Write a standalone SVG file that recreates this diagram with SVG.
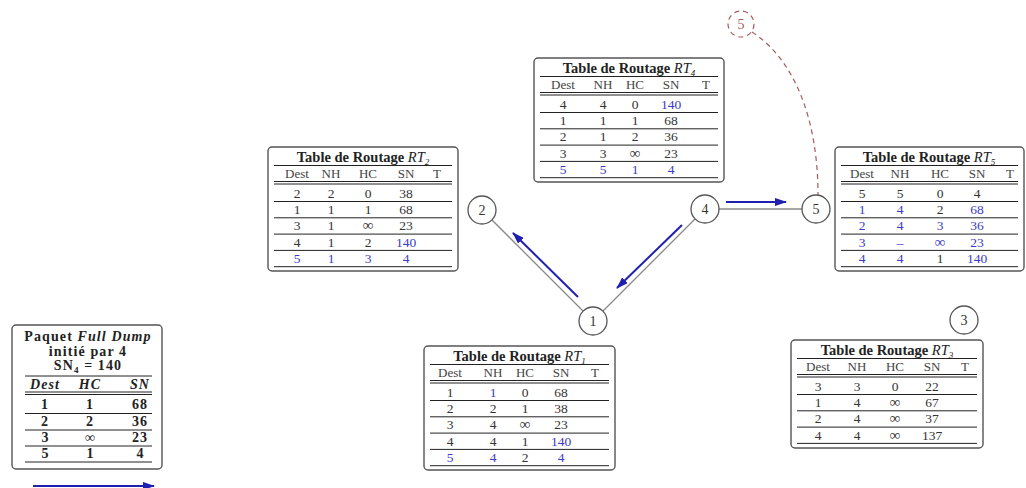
<svg xmlns="http://www.w3.org/2000/svg" width="1026" height="488" viewBox="0 0 1026 488">
  <style>
    .box { fill: #fff; stroke: #555; stroke-width: 1.4; }
    .rule { stroke: #222; stroke-width: 1; }
    .tt { font-family: "Liberation Serif", "DejaVu Serif", serif; font-weight: bold; font-size: 14.5px; fill: #222; text-anchor: middle; }
    .rt { font-weight: normal; font-style: italic; }
    .hd { font-family: "Liberation Serif", "DejaVu Serif", serif; font-size: 13px; fill: #444; text-anchor: middle; }
    .c { font-family: "Liberation Serif", "DejaVu Serif", serif; font-size: 13.5px; fill: #333; text-anchor: middle; }
    .inf { font-size: 15px; }
    .b { fill: #3b3bc4; }
    .pk { font-family: "Liberation Serif", "DejaVu Serif", serif; font-weight: bold; font-size: 14px; fill: #222; text-anchor: middle; }
    .wide { letter-spacing: 1.1px; }
    .it { font-style: italic; }
    .link { stroke: #888; stroke-width: 1.3; fill: none; }
    .flow { stroke: #1f1fb0; stroke-width: 2; fill: none; marker-end: url(#head); }
    .node { fill: #fff; stroke: #555; stroke-width: 1.3; }
    .nl { font-family: "Liberation Serif", "DejaVu Serif", serif; font-size: 14px; fill: #333; text-anchor: middle; }
    .ghost { fill: none; stroke: #a85a5a; stroke-width: 1.2; stroke-dasharray: 5 4; }
  </style>
  <defs>
    <marker id="head" viewBox="0 0 12 8" refX="11" refY="4" markerWidth="12" markerHeight="8" markerUnits="userSpaceOnUse" orient="auto">
      <path d="M0,0 L12,4 L0,8 z" fill="#1f1fb0"/>
    </marker>
  </defs>

  <!-- links between nodes and the flooding arrows -->
  <g id="connectors">
    <line class="link" x1="482" y1="210" x2="593" y2="321"/>
    <line class="link" x1="593" y1="321" x2="705" y2="209"/>
    <line class="link" x1="705" y1="209" x2="816" y2="209"/>
    <line class="flow" x1="578" y1="297" x2="513" y2="233"/>
    <line class="flow" x1="682" y1="225" x2="617" y2="288"/>
    <line class="flow" x1="726" y1="202" x2="786" y2="202"/>
    <path class="ghost" d="M752,32 C795,60 818,120 818,195"/>
    <line class="flow" x1="33" y1="486" x2="154" y2="486"/>
  </g>

  <!-- nodes -->
  <g id="node-2"><circle class="node" cx="482" cy="210" r="14"/><text class="nl" x="482" y="215">2</text></g>
  <g id="node-1"><circle class="node" cx="593" cy="321" r="14"/><text class="nl" x="593" y="326">1</text></g>
  <g id="node-4"><circle class="node" cx="705" cy="209" r="14"/><text class="nl" x="705" y="214">4</text></g>
  <g id="node-5"><circle class="node" cx="816" cy="209" r="14"/><text class="nl" x="816" y="214">5</text></g>
  <g id="node-3"><circle class="node" cx="964" cy="320" r="14"/><text class="nl" x="964" y="325">3</text></g>
  <g id="node-5-moved"><circle class="ghost" cx="741" cy="24" r="13"/><text class="nl" x="741" y="29" style="fill:#a85a5a">5</text></g>

  <!-- routing table of node 4 -->
  <g id="table-rt4">
    <rect class="box" x="534" y="58" width="190" height="124" rx="4"/>
    <text class="tt" x="629" y="72.5">Table de Routage <tspan class="rt">RT</tspan><tspan class="rt" font-size="9" dy="3">4</tspan></text>
    <line class="rule" x1="540" y1="76.5" x2="718" y2="76.5"/>
    <g class="hd"><text x="563" y="89">Dest</text><text x="603" y="89">NH</text><text x="635" y="89">HC</text><text x="671" y="89">SN</text><text x="706" y="89">T</text></g>
    <line class="rule" x1="540" y1="92.5" x2="718" y2="92.5"/>
    <line class="rule" x1="540" y1="95" x2="718" y2="95"/>
    <text class="c" x="563" y="108.8">4</text><text class="c" x="603" y="108.8">4</text><text class="c" x="635" y="108.8">0</text><text class="c b" x="671" y="108.8">140</text>
    <line class="rule" x1="540" y1="112.5" x2="718" y2="112.5"/>
    <text class="c" x="563" y="125.1">1</text><text class="c" x="603" y="125.1">1</text><text class="c" x="635" y="125.1">1</text><text class="c" x="671" y="125.1">68</text>
    <line class="rule" x1="540" y1="128.8" x2="718" y2="128.8"/>
    <text class="c" x="563" y="141.4">2</text><text class="c" x="603" y="141.4">1</text><text class="c" x="635" y="141.4">2</text><text class="c" x="671" y="141.4">36</text>
    <line class="rule" x1="540" y1="145.1" x2="718" y2="145.1"/>
    <text class="c" x="563" y="157.7">3</text><text class="c" x="603" y="157.7">3</text><text class="c inf" x="635" y="157.7">∞</text><text class="c" x="671" y="157.7">23</text>
    <line class="rule" x1="540" y1="161.4" x2="718" y2="161.4"/>
    <text class="c b" x="563" y="174">5</text><text class="c b" x="603" y="174">5</text><text class="c b" x="635" y="174">1</text><text class="c b" x="671" y="174">4</text>
    <line class="rule" x1="540" y1="177.7" x2="718" y2="177.7"/>
  </g>

  <!-- routing table of node 2 -->
  <g id="table-rt2">
    <rect class="box" x="268" y="147" width="190" height="124" rx="4"/>
    <text class="tt" x="363" y="161.5">Table de Routage <tspan class="rt">RT</tspan><tspan class="rt" font-size="9" dy="3">2</tspan></text>
    <line class="rule" x1="274" y1="165.5" x2="452" y2="165.5"/>
    <g class="hd"><text x="297" y="178">Dest</text><text x="331" y="178">NH</text><text x="368" y="178">HC</text><text x="406" y="178">SN</text><text x="437" y="178">T</text></g>
    <line class="rule" x1="274" y1="181.5" x2="452" y2="181.5"/>
    <line class="rule" x1="274" y1="184" x2="452" y2="184"/>
    <text class="c" x="297" y="197.8">2</text><text class="c" x="331" y="197.8">2</text><text class="c" x="368" y="197.8">0</text><text class="c" x="406" y="197.8">38</text>
    <line class="rule" x1="274" y1="201.5" x2="452" y2="201.5"/>
    <text class="c" x="297" y="214.1">1</text><text class="c" x="331" y="214.1">1</text><text class="c" x="368" y="214.1">1</text><text class="c" x="406" y="214.1">68</text>
    <line class="rule" x1="274" y1="217.8" x2="452" y2="217.8"/>
    <text class="c" x="297" y="230.4">3</text><text class="c" x="331" y="230.4">1</text><text class="c inf" x="368" y="230.4">∞</text><text class="c" x="406" y="230.4">23</text>
    <line class="rule" x1="274" y1="234.1" x2="452" y2="234.1"/>
    <text class="c" x="297" y="246.7">4</text><text class="c" x="331" y="246.7">1</text><text class="c" x="368" y="246.7">2</text><text class="c b" x="406" y="246.7">140</text>
    <line class="rule" x1="274" y1="250.4" x2="452" y2="250.4"/>
    <text class="c b" x="297" y="263">5</text><text class="c b" x="331" y="263">1</text><text class="c b" x="368" y="263">3</text><text class="c b" x="406" y="263">4</text>
    <line class="rule" x1="274" y1="266.7" x2="452" y2="266.7"/>
  </g>

  <!-- routing table of node 5 -->
  <g id="table-rt5">
    <rect class="box" x="835" y="147" width="189" height="124" rx="4"/>
    <text class="tt" x="929" y="161.5">Table de Routage <tspan class="rt">RT</tspan><tspan class="rt" font-size="9" dy="3">5</tspan></text>
    <line class="rule" x1="841" y1="165.5" x2="1018" y2="165.5"/>
    <g class="hd"><text x="862" y="178">Dest</text><text x="900" y="178">NH</text><text x="940" y="178">HC</text><text x="977" y="178">SN</text><text x="1010" y="178">T</text></g>
    <line class="rule" x1="841" y1="181.5" x2="1018" y2="181.5"/>
    <line class="rule" x1="841" y1="184" x2="1018" y2="184"/>
    <text class="c" x="862" y="197.8">5</text><text class="c" x="900" y="197.8">5</text><text class="c" x="940" y="197.8">0</text><text class="c" x="977" y="197.8">4</text>
    <line class="rule" x1="841" y1="201.5" x2="1018" y2="201.5"/>
    <text class="c b" x="862" y="214.1">1</text><text class="c b" x="900" y="214.1">4</text><text class="c" x="940" y="214.1">2</text><text class="c b" x="977" y="214.1">68</text>
    <line class="rule" x1="841" y1="217.8" x2="1018" y2="217.8"/>
    <text class="c b" x="862" y="230.4">2</text><text class="c b" x="900" y="230.4">4</text><text class="c b" x="940" y="230.4">3</text><text class="c b" x="977" y="230.4">36</text>
    <line class="rule" x1="841" y1="234.1" x2="1018" y2="234.1"/>
    <text class="c b" x="862" y="246.7">3</text><text class="c b" x="900" y="246.7">–</text><text class="c b inf" x="940" y="246.7">∞</text><text class="c b" x="977" y="246.7">23</text>
    <line class="rule" x1="841" y1="250.4" x2="1018" y2="250.4"/>
    <text class="c b" x="862" y="263">4</text><text class="c b" x="900" y="263">4</text><text class="c" x="940" y="263">1</text><text class="c b" x="977" y="263">140</text>
    <line class="rule" x1="841" y1="266.7" x2="1018" y2="266.7"/>
  </g>

  <!-- routing table of node 1 -->
  <g id="table-rt1">
    <rect class="box" x="424" y="346" width="191" height="124" rx="4"/>
    <text class="tt" x="519.5" y="360.5">Table de Routage <tspan class="rt">RT</tspan><tspan class="rt" font-size="9" dy="3">1</tspan></text>
    <line class="rule" x1="430" y1="364.5" x2="609" y2="364.5"/>
    <g class="hd"><text x="450" y="377">Dest</text><text x="493" y="377">NH</text><text x="525" y="377">HC</text><text x="561" y="377">SN</text><text x="595" y="377">T</text></g>
    <line class="rule" x1="430" y1="380.5" x2="609" y2="380.5"/>
    <line class="rule" x1="430" y1="383" x2="609" y2="383"/>
    <text class="c" x="450" y="396.8">1</text><text class="c b" x="493" y="396.8">1</text><text class="c" x="525" y="396.8">0</text><text class="c" x="561" y="396.8">68</text>
    <line class="rule" x1="430" y1="400.5" x2="609" y2="400.5"/>
    <text class="c" x="450" y="413.1">2</text><text class="c" x="493" y="413.1">2</text><text class="c" x="525" y="413.1">1</text><text class="c" x="561" y="413.1">38</text>
    <line class="rule" x1="430" y1="416.8" x2="609" y2="416.8"/>
    <text class="c" x="450" y="429.4">3</text><text class="c" x="493" y="429.4">4</text><text class="c inf" x="525" y="429.4">∞</text><text class="c" x="561" y="429.4">23</text>
    <line class="rule" x1="430" y1="433.1" x2="609" y2="433.1"/>
    <text class="c" x="450" y="445.7">4</text><text class="c" x="493" y="445.7">4</text><text class="c" x="525" y="445.7">1</text><text class="c b" x="561" y="445.7">140</text>
    <line class="rule" x1="430" y1="449.4" x2="609" y2="449.4"/>
    <text class="c b" x="450" y="462">5</text><text class="c b" x="493" y="462">4</text><text class="c" x="525" y="462">2</text><text class="c b" x="561" y="462">4</text>
    <line class="rule" x1="430" y1="465.7" x2="609" y2="465.7"/>
  </g>

  <!-- routing table of node 3 -->
  <g id="table-rt3">
    <rect class="box" x="791" y="340" width="192" height="108" rx="4"/>
    <text class="tt" x="887" y="354.5">Table de Routage <tspan class="rt">RT</tspan><tspan class="rt" font-size="9" dy="3">3</tspan></text>
    <line class="rule" x1="797" y1="358.5" x2="977" y2="358.5"/>
    <g class="hd"><text x="818" y="371">Dest</text><text x="857" y="371">NH</text><text x="895" y="371">HC</text><text x="932" y="371">SN</text><text x="965" y="371">T</text></g>
    <line class="rule" x1="797" y1="374.5" x2="977" y2="374.5"/>
    <line class="rule" x1="797" y1="377" x2="977" y2="377"/>
    <text class="c" x="818" y="390.8">3</text><text class="c" x="857" y="390.8">3</text><text class="c" x="895" y="390.8">0</text><text class="c" x="932" y="390.8">22</text>
    <line class="rule" x1="797" y1="394.5" x2="977" y2="394.5"/>
    <text class="c" x="818" y="407.1">1</text><text class="c" x="857" y="407.1">4</text><text class="c inf" x="895" y="407.1">∞</text><text class="c" x="932" y="407.1">67</text>
    <line class="rule" x1="797" y1="410.8" x2="977" y2="410.8"/>
    <text class="c" x="818" y="423.4">2</text><text class="c" x="857" y="423.4">4</text><text class="c inf" x="895" y="423.4">∞</text><text class="c" x="932" y="423.4">37</text>
    <line class="rule" x1="797" y1="427.1" x2="977" y2="427.1"/>
    <text class="c" x="818" y="439.7">4</text><text class="c" x="857" y="439.7">4</text><text class="c inf" x="895" y="439.7">∞</text><text class="c" x="932" y="439.7">137</text>
    <line class="rule" x1="797" y1="443.4" x2="977" y2="443.4"/>
  </g>

  <!-- Full Dump packet sent by node 4 -->
  <g id="packet-full-dump">
    <rect class="box" x="12" y="325" width="150" height="144" rx="4"/>
    <text class="pk wide" x="88" y="341">Paquet <tspan class="it">Full Dump</tspan></text>
    <text class="pk wide" x="88" y="355.5">initié par 4</text>
    <text class="pk wide" x="88" y="369.5">SN<tspan font-size="9" dy="3">4</tspan><tspan dy="-3"> = 140</tspan></text>
    <line class="rule" x1="25" y1="376" x2="152" y2="376"/>
    <g class="pk it wide"><text x="45" y="389">Dest</text><text x="90" y="389">HC</text><text x="140" y="389">SN</text></g>
    <line class="rule" x1="25" y1="392" x2="152" y2="392"/>
    <line class="rule" x1="25" y1="394.5" x2="152" y2="394.5"/>
    <text class="pk wide" x="45" y="409">1</text><text class="pk wide" x="90" y="409">1</text><text class="pk wide" x="140" y="409">68</text>
    <line class="rule" x1="25" y1="413.5" x2="152" y2="413.5"/>
    <text class="pk wide" x="45" y="425.5">2</text><text class="pk wide" x="90" y="425.5">2</text><text class="pk wide" x="140" y="425.5">36</text>
    <line class="rule" x1="25" y1="430" x2="152" y2="430"/>
    <text class="pk" x="45" y="441.5">3</text><text class="pk" x="90" y="441.5" font-size="17">∞</text><text class="pk wide" x="140" y="441.5">23</text>
    <line class="rule" x1="25" y1="446" x2="152" y2="446"/>
    <text class="pk" x="45" y="457.5">5</text><text class="pk" x="90" y="457.5">1</text><text class="pk" x="140" y="457.5">4</text>
    <line class="rule" x1="25" y1="462" x2="152" y2="462"/>
  </g>
</svg>
